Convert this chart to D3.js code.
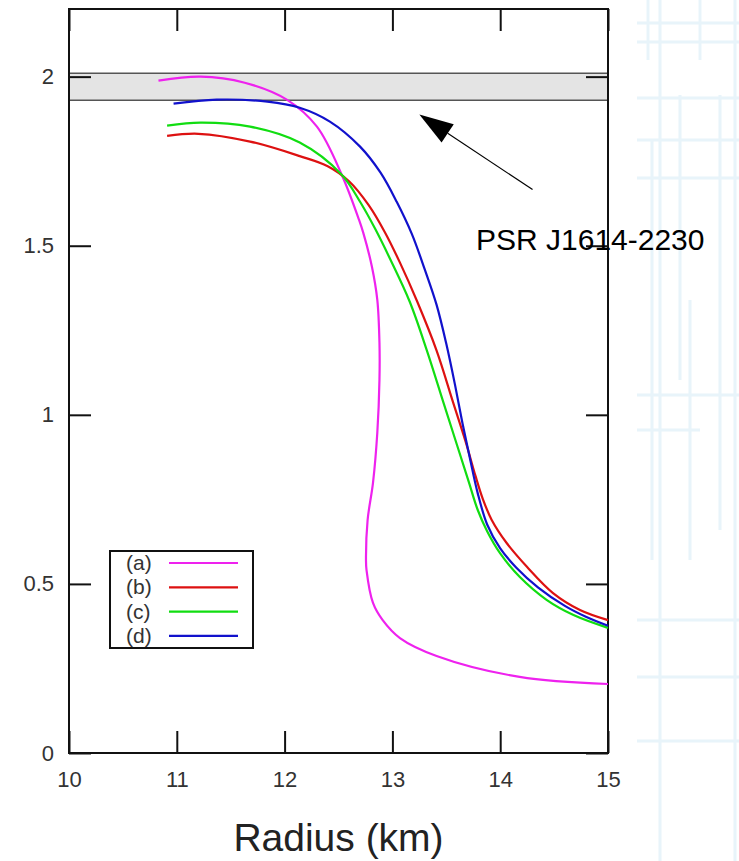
<!DOCTYPE html>
<html>
<head>
<meta charset="utf-8">
<script src="https://d3js.org/d3.v7.min.js"></script>
<style>
  body { margin: 0; background: #fff; }
  svg { display: block; font-family: "Liberation Sans", Arial, sans-serif; }
</style>
</head>
<body>
<svg width="739" height="861"></svg>
<script>
// mass-radius curves (radius in km, mass in solar masses)
var radiusA = [10.83, 11.22, 11.63, 12.02, 12.30, 12.53, 12.69, 12.73, 12.81, 12.86, 12.88, 12.88, 12.86, 12.82, 12.77, 12.755, 12.76, 12.82, 12.91, 13.07, 13.41, 14.18, 15.0];
var massA   = [1.988, 2.0, 1.982, 1.932, 1.852, 1.71, 1.577, 1.538, 1.438, 1.34, 1.213, 1.104, 0.947, 0.799, 0.689, 0.571, 0.541, 0.444, 0.393, 0.34, 0.287, 0.225, 0.204];

var radiusB = [10.91, 11.2, 11.68, 12.14, 12.40, 12.60, 12.78, 12.93, 13.07, 13.23, 13.41, 13.56, 13.68, 13.77, 13.84, 13.92, 14.06, 14.25, 14.49, 14.74, 15.0];
var massB   = [1.825, 1.831, 1.808, 1.765, 1.735, 1.69, 1.62, 1.54, 1.45, 1.335, 1.19, 1.04, 0.92, 0.82, 0.75, 0.69, 0.621, 0.55, 0.473, 0.423, 0.393];

var radiusC = [10.91, 11.22, 11.68, 12.14, 12.53, 12.70, 12.84, 12.98, 13.16, 13.32, 13.47, 13.60, 13.71, 13.79, 13.88, 14.0, 14.18, 14.43, 14.68, 15.0];
var massC   = [1.855, 1.864, 1.852, 1.805, 1.71, 1.63, 1.55, 1.46, 1.335, 1.19, 1.04, 0.91, 0.80, 0.72, 0.655, 0.59, 0.521, 0.453, 0.408, 0.37];

var radiusD = [10.97, 11.37, 11.84, 12.14, 12.42, 12.70, 12.89, 13.04, 13.18, 13.30, 13.41, 13.50, 13.58, 13.65, 13.72, 13.79, 13.88, 14.0, 14.15, 14.35, 14.6, 14.8, 15.0];
var massD   = [1.92, 1.932, 1.926, 1.908, 1.867, 1.793, 1.716, 1.63, 1.535, 1.43, 1.325, 1.21, 1.09, 0.975, 0.87, 0.77, 0.675, 0.605, 0.548, 0.49, 0.435, 0.402, 0.376];

var seriesNames  = ["(a)", "(b)", "(c)", "(d)"];
var seriesColors = ["#ee22ee", "#dd1111", "#11dd11", "#1111cc"];

// observed pulsar mass band and its annotation
var psrBand  = [1.93, 2.01];
var psrLabel = "PSR J1614-2230";
var arrowTip  = [13.25, 1.888];
var arrowTail = [14.30, 1.666];

var xTicks = [10, 11, 12, 13, 14, 15];
var yTicks = [0, 0.5, 1, 1.5, 2];
var xTitle = "Radius (km)";

var svg = d3.select("svg");

// faint slide background on the right
var bg = svg.append("g").attr("stroke", "#e8f4fa").attr("stroke-width", 3).attr("fill", "none");
[[648, 0, 648, 60], [660, 0, 660, 861], [700, 0, 700, 60], [720, 95, 720, 530], [735, 0, 735, 861],
 [652, 140, 652, 560], [690, 300, 690, 560], [680, 95, 680, 380],
 [637, 23, 739, 23], [637, 42, 739, 42], [637, 98, 739, 98], [637, 140, 739, 140], [637, 178, 739, 178],
 [637, 395, 739, 395], [637, 430, 700, 430], [637, 620, 739, 620], [637, 677, 739, 677], [637, 741, 739, 741]]
  .forEach(function(l) {
    bg.append("line").attr("x1", l[0]).attr("y1", l[1]).attr("x2", l[2]).attr("y2", l[3]);
  });

var plotL = 69, plotR = 608, plotT = 9, plotB = 753;

var x = d3.scaleLinear().domain([10, 15]).range([plotL, plotR]);
var y = d3.scaleLinear().domain([0, 2.2]).range([plotB, plotT]);

// grey band
svg.append("rect")
  .attr("x", plotL).attr("width", plotR - plotL)
  .attr("y", y(psrBand[1])).attr("height", y(psrBand[0]) - y(psrBand[1]))
  .attr("fill", "#e4e4e4");
svg.selectAll(".bandEdge").data(psrBand).enter().append("line")
  .attr("class", "bandEdge")
  .attr("x1", plotL).attr("x2", plotR)
  .attr("y1", function(d) { return y(d); }).attr("y2", function(d) { return y(d); })
  .attr("stroke", "#555").attr("stroke-width", 1.6);

// axes, ticks pointing inwards on all four sides
function styleAxis(g) {
  g.attr("font-size", 22).attr("font-family", "'Liberation Sans', Arial, sans-serif");
  g.select(".domain").remove();
  g.selectAll(".tick line").attr("stroke", "#111").attr("stroke-width", 2);
  g.selectAll("text").attr("fill", "#333");
}
svg.append("g").attr("transform", "translate(0," + plotB + ")")
  .call(d3.axisBottom(x).tickValues(xTicks).tickSize(-22).tickPadding(18).tickFormat(d3.format("d")))
  .call(styleAxis);
svg.append("g").attr("transform", "translate(0," + plotT + ")")
  .call(d3.axisTop(x).tickValues(xTicks).tickSize(-22).tickFormat(""))
  .call(styleAxis);
svg.append("g").attr("transform", "translate(" + plotL + ",0)")
  .call(d3.axisLeft(y).tickValues(yTicks).tickSize(-22).tickPadding(15).tickFormat(d3.format("")))
  .call(styleAxis);
svg.append("g").attr("transform", "translate(" + plotR + ",0)")
  .call(d3.axisRight(y).tickValues(yTicks).tickSize(-22).tickFormat(""))
  .call(styleAxis);

svg.append("rect")
  .attr("x", plotL).attr("y", plotT).attr("width", plotR - plotL).attr("height", plotB - plotT)
  .attr("fill", "none").attr("stroke", "#111").attr("stroke-width", 2);

// curves
var curves = [[radiusA, massA], [radiusB, massB], [radiusC, massC], [radiusD, massD]].map(function(s) {
  return s[0].map(function(r, i) { return [r, s[1][i]]; });
});
var line = d3.line()
  .x(function(d) { return x(d[0]); })
  .y(function(d) { return y(d[1]); })
  .curve(d3.curveCatmullRom.alpha(0.5));

svg.append("g").selectAll("path").data(curves).enter().append("path")
  .attr("d", line)
  .attr("fill", "none")
  .attr("stroke", function(d, i) { return seriesColors[i]; })
  .attr("stroke-width", 2.2);

// arrow and label
var tx = x(arrowTip[0]), ty = y(arrowTip[1]), sx = x(arrowTail[0]), sy = y(arrowTail[1]);
var ang = Math.atan2(sy - ty, sx - tx), headLen = 34, headW = 11;
var bx = tx + headLen * Math.cos(ang), by = ty + headLen * Math.sin(ang);
svg.append("line")
  .attr("x1", sx).attr("y1", sy).attr("x2", bx).attr("y2", by)
  .attr("stroke", "#000").attr("stroke-width", 1.2);
svg.append("path")
  .attr("d", "M" + tx + "," + ty +
    "L" + (bx + headW * Math.sin(ang)) + "," + (by - headW * Math.cos(ang)) +
    "L" + (bx - headW * Math.sin(ang)) + "," + (by + headW * Math.cos(ang)) + "Z")
  .attr("fill", "#000");
svg.append("text")
  .attr("x", 476).attr("y", 250)
  .attr("font-size", 30).attr("fill", "#000")
  .text(psrLabel);

// x title
svg.append("text")
  .attr("x", (plotL + plotR) / 2).attr("y", 851)
  .attr("text-anchor", "middle")
  .attr("font-size", 39).attr("fill", "#222")
  .text(xTitle);

// legend
var legend = svg.append("g").attr("transform", "translate(110,551)");
legend.append("rect").attr("width", 143).attr("height", 97)
  .attr("fill", "#fff").attr("stroke", "#111").attr("stroke-width", 2);
var rows = legend.selectAll(".row").data(seriesNames).enter().append("g")
  .attr("class", "row")
  .attr("transform", function(d, i) { return "translate(0," + (12 + i * 24.3) + ")"; });
rows.append("text").attr("x", 16).attr("y", 7)
  .attr("font-size", 21).attr("fill", "#333").text(function(d) { return d; });
rows.append("line").attr("x1", 59).attr("x2", 128)
  .attr("stroke", function(d, i) { return seriesColors[i]; }).attr("stroke-width", 2.2);
</script>
</body>
</html>
